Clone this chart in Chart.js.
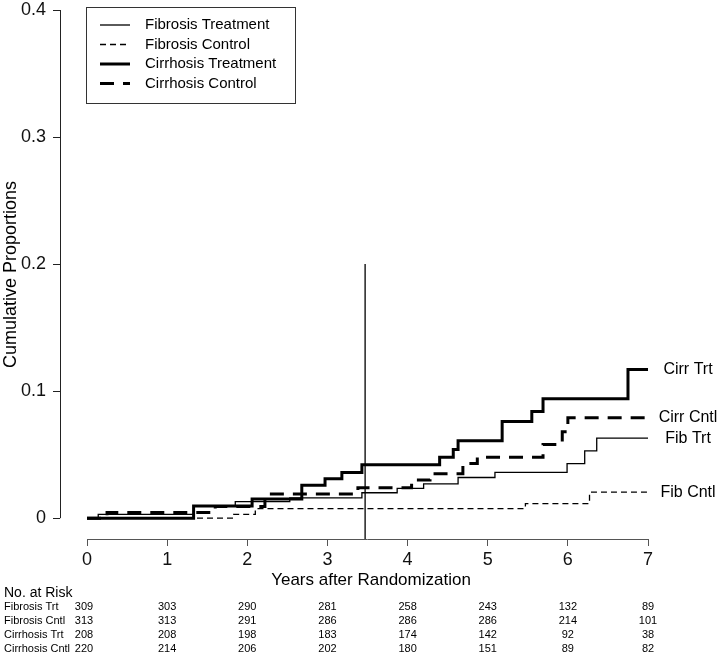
<!DOCTYPE html>
<html>
<head>
<meta charset="utf-8">
<script src="https://cdn.jsdelivr.net/npm/chart.js@4.4.1/dist/chart.umd.min.js"></script>
<style>
  html, body { margin: 0; padding: 0; background: #fff; }
</style>
</head>
<body>
<canvas id="chart" width="717" height="653"></canvas>
<script>
// step points: years after randomization -> cumulative proportion
const fibTrtTimes = [0, 0.14, 1.33, 1.85, 2.53, 3.43, 3.87, 4.2, 4.63, 5.09, 5.99, 6.21, 6.36, 7];
const fibTrtVals  = [0, 0.003, 0.0094, 0.013, 0.016, 0.020, 0.0234, 0.027, 0.032, 0.036, 0.043, 0.053, 0.063, 0.063];

const fibCntlTimes = [0, 1.83, 2.1, 5.47, 6.27, 7];
const fibCntlVals  = [0, 0.003, 0.0075, 0.0115, 0.0205, 0.0205];

const cirrTrtTimes = [0, 1.33, 2.06, 2.68, 2.97, 3.18, 3.43, 4.4, 4.57, 4.63, 5.18, 5.55, 5.69, 6.75, 7];
const cirrTrtVals  = [0, 0.0096, 0.015, 0.026, 0.031, 0.036, 0.042, 0.048, 0.054, 0.061, 0.076, 0.084, 0.094, 0.117, 0.117];

const cirrCntlTimes = [0, 0.25, 1.6, 2.22, 3.38, 4.05, 4.28, 4.69, 4.87, 5.69, 5.93, 6.0, 7];
const cirrCntlVals  = [0, 0.0045, 0.0092, 0.019, 0.024, 0.030, 0.035, 0.043, 0.048, 0.058, 0.068, 0.079, 0.079];

const seriesNames = ["Fibrosis Treatment", "Fibrosis Control", "Cirrhosis Treatment", "Cirrhosis Control"];
const endLabels = ["Fib Trt", "Fib Cntl", "Cirr Trt", "Cirr Cntl"];

const cutoffYear = 3.47;
const cutoffTop = 0.2;

const xTicks = [0, 1, 2, 3, 4, 5, 6, 7];
const yTicks = [0, 0.1, 0.2, 0.3, 0.4];

// number at risk table
const riskTitle = "No. at Risk";
const riskLabels = ["Fibrosis Trt", "Fibrosis Cntl", "Cirrhosis Trt", "Cirrhosis Cntl"];
const riskFibTrt   = [309, 303, 290, 281, 258, 243, 132, 89];
const riskFibCntl  = [313, 313, 291, 286, 286, 286, 214, 101];
const riskCirrTrt  = [208, 208, 198, 183, 174, 142, 92, 38];
const riskCirrCntl = [220, 214, 206, 202, 180, 151, 89, 82];
const riskRows = [riskFibTrt, riskFibCntl, riskCirrTrt, riskCirrCntl];

const X_MIN = -0.337, X_MAX = 7.424;
const Y_MIN = -0.0164, Y_MAX = 0.4;

const toPoints = (ts, vs) => ts.map((t, i) => ({ x: t, y: vs[i] }));

const styles = [
  { width: 1.3, dash: [] },
  { width: 1.3, dash: [6, 4] },
  { width: 3, dash: [] },
  { width: 3, dash: [14, 9] },
];

const curveData = [
  toPoints(fibTrtTimes, fibTrtVals),
  toPoints(fibCntlTimes, fibCntlVals),
  toPoints(cirrTrtTimes, cirrTrtVals),
  toPoints(cirrCntlTimes, cirrCntlVals),
];

const datasets = curveData.map((pts, i) => ({
  label: seriesNames[i],
  data: pts,
  borderColor: "#000",
  borderWidth: styles[i].width,
  borderDash: styles[i].dash,
  borderCapStyle: "butt",
  pointRadius: 0,
  stepped: true,
  fill: false,
}));

datasets.push({
  label: "cutoff",
  data: [{ x: cutoffYear, y: cutoffTop }, { x: cutoffYear, y: Y_MIN }],
  borderColor: "#000",
  borderWidth: 1.3,
  pointRadius: 0,
  fill: false,
});

Chart.defaults.font.family = "'Liberation Sans', Arial, sans-serif";
Chart.defaults.color = "#000";

// axis lines, legend box, end labels, risk table
const extras = {
  id: "extras",
  afterDraw(chart) {
    const ctx = chart.ctx;
    const xs = chart.scales.x, ys = chart.scales.y;
    const area = chart.chartArea;
    ctx.save();

    // axis lines (only over the tick range, R style)
    ctx.lineWidth = 1;
    ctx.strokeStyle = "#555";
    ctx.beginPath();
    ctx.moveTo(xs.getPixelForValue(0), area.bottom + 0.5);
    ctx.lineTo(xs.getPixelForValue(7), area.bottom + 0.5);
    ctx.stroke();
    ctx.strokeStyle = "#222";
    ctx.beginPath();
    ctx.moveTo(area.left + 0.5, ys.getPixelForValue(0));
    ctx.lineTo(area.left + 0.5, ys.getPixelForValue(0.4));
    ctx.stroke();

    // legend
    ctx.strokeStyle = "#333";
    ctx.lineWidth = 1;
    ctx.strokeRect(86.5, 7.5, 209, 96);
    ctx.font = "15px 'Liberation Sans', Arial, sans-serif";
    ctx.textBaseline = "middle";
    ctx.textAlign = "left";
    ctx.fillStyle = "#000";
    seriesNames.forEach((name, i) => {
      const y = 25 + i * 19.5;
      ctx.strokeStyle = "#000";
      ctx.lineWidth = styles[i].width;
      ctx.setLineDash(styles[i].dash);
      ctx.beginPath();
      ctx.moveTo(100, y);
      ctx.lineTo(130, y);
      ctx.stroke();
      ctx.setLineDash([]);
      ctx.fillText(name, 145, y);
    });

    // labels at curve ends
    ctx.font = "16px 'Liberation Sans', Arial, sans-serif";
    ctx.textAlign = "center";
    const lx = xs.getPixelForValue(7) + 40;
    curveData.forEach((pts, i) => {
      const last = pts[pts.length - 1];
      ctx.fillText(endLabels[i], lx, ys.getPixelForValue(last.y));
    });

    // number at risk
    ctx.textAlign = "left";
    ctx.font = "14px 'Liberation Sans', Arial, sans-serif";
    ctx.fillText(riskTitle, 4, 593);
    ctx.font = "11px 'Liberation Sans Narrow', 'Liberation Sans', Arial, sans-serif";
    riskRows.forEach((row, r) => {
      const y = 607 + r * 14;
      ctx.textAlign = "left";
      ctx.fillText(riskLabels[r], 4, y);
      ctx.textAlign = "center";
      row.forEach((n, j) => {
        ctx.fillText(String(n), xs.getPixelForValue(xTicks[j]) - (j === 0 ? 3 : 0), y);
      });
    });
    ctx.restore();
  },
};

new Chart(document.getElementById("chart"), {
  type: "line",
  data: { datasets },
  options: {
    responsive: false,
    animation: false,
    layout: { padding: { left: 0, right: 35, top: 10, bottom: 58 } },
    plugins: { legend: { display: false }, tooltip: { enabled: false } },
    scales: {
      x: {
        type: "linear",
        min: X_MIN,
        max: X_MAX,
        afterBuildTicks: (s) => { s.ticks = xTicks.map((v) => ({ value: v })); },
        afterFit: (s) => {
          s.height = 56;
          s.paddingLeft = 0; s.paddingRight = 0; s.paddingTop = 0; s.paddingBottom = 0;
        },
        border: { display: false },
        grid: { drawOnChartArea: false, drawTicks: true, tickLength: 7, color: "#555" },
        ticks: { font: { size: 18 }, color: "#111", padding: 3, maxRotation: 0, autoSkip: false },
        title: { display: true, text: "Years after Randomization", font: { size: 17 }, color: "#000" },
      },
      y: {
        type: "linear",
        min: Y_MIN,
        max: Y_MAX,
        afterBuildTicks: (s) => { s.ticks = yTicks.map((v) => ({ value: v })); },
        afterFit: (s) => {
          s.width = 60;
          s.paddingLeft = 0; s.paddingRight = 0; s.paddingTop = 0; s.paddingBottom = 0;
        },
        border: { display: false },
        grid: { drawOnChartArea: false, drawTicks: true, tickLength: 7, color: "#222" },
        ticks: { font: { size: 18 }, color: "#111", padding: 7, callback: (v) => String(v) },
        title: { display: true, text: "Cumulative Proportions", font: { size: 18 }, color: "#000", padding: 0 },
      },
    },
  },
  plugins: [extras],
});
</script>
</body>
</html>
